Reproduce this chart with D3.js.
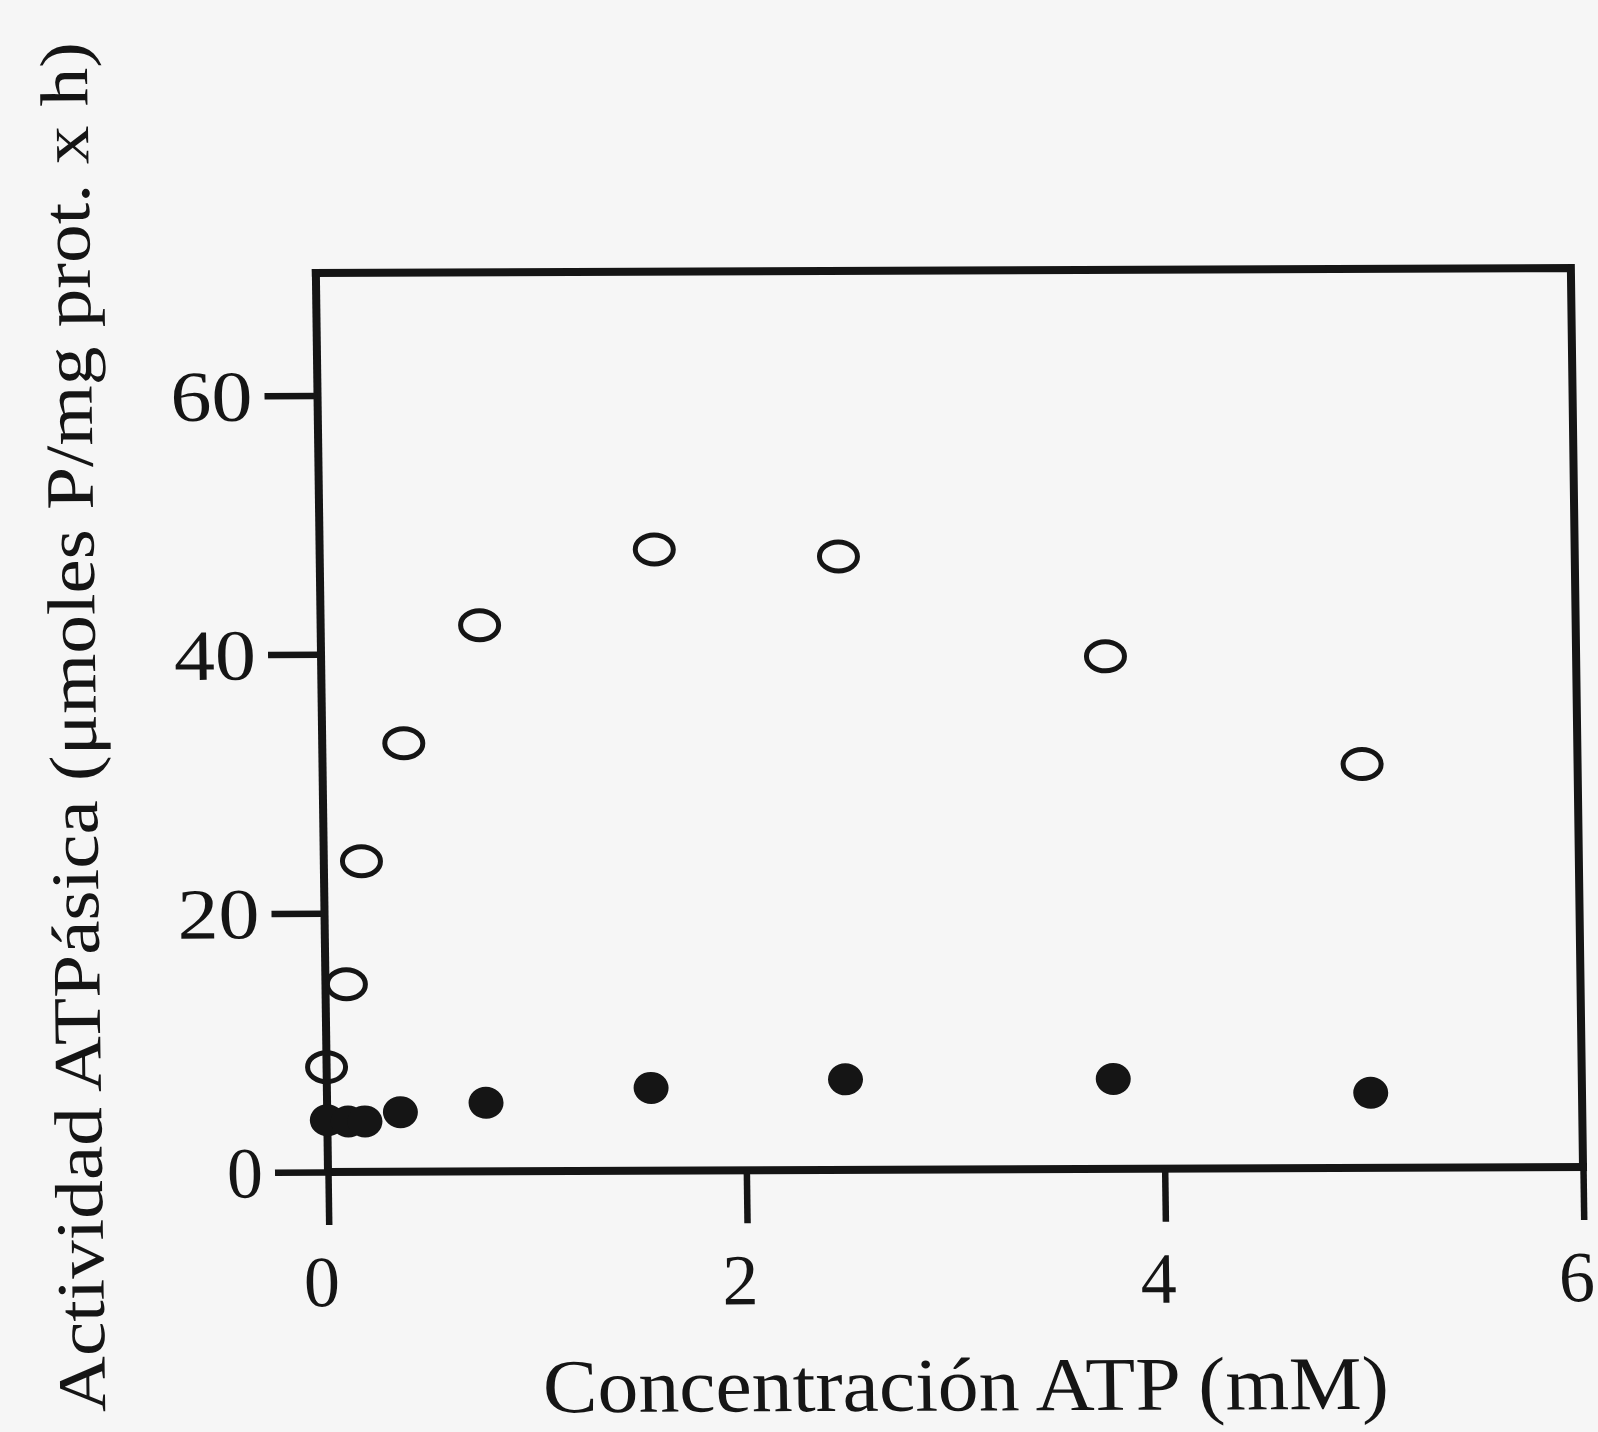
<!DOCTYPE html>
<html>
<head>
<meta charset="utf-8">
<script src="https://cdn.jsdelivr.net/npm/d3@7"></script>
<style>
  body { margin: 0; background: #f6f6f6; }
  svg { display: block; }
  text { font-family: "Liberation Serif", "Times New Roman", serif; fill: #151515; }
</style>
</head>
<body>
<div id="chart"></div>
<script>
/** ATPase activity vs ATP concentration *******************/

// Concentration ATP (mM), open circles
var xOpen = [0, 0.1, 0.18, 0.39, 0.76, 1.6, 2.48, 3.75, 4.97];
// Activity, open circles
var yOpen = [8.1, 14.5, 24.0, 33.1, 42.2, 48.0, 47.4, 39.6, 31.2];

// Concentration ATP (mM), filled circles
var xFilled = [0, 0.1, 0.18, 0.35, 0.76, 1.55, 2.48, 3.76, 4.99];
// Activity, filled circles
var yFilled = [4.0, 3.9, 3.9, 4.6, 5.3, 6.4, 7.0, 6.95, 5.8];

var xTicks = [0, 2, 4, 6];
var yTicks = [0, 20, 40, 60];

var xTitle = "Concentración ATP (mM)";
var yTitle = "Actividad ATPásica (μmoles P/mg prot. x h)";

//**************************************************/

var width = 1598;
var height = 1432;
// note: "top" is taken by window.top, so prefix everything
var plotLeft = 328, plotRight = 1583, plotBottom = 1172, plotTop = 273;
var tickLen = 53;
var lineW = 8;
var ink = "#151515";

var svg = d3.select("#chart").append("svg")
    .attr("width", width)
    .attr("height", height);

svg.append("rect")
    .attr("width", width)
    .attr("height", height)
    .attr("fill", "#f6f6f6");

// the scanned page is slightly skewed, shear everything round the origin
var g = svg.append("g")
    .attr("transform", "translate(" + plotLeft + "," + plotBottom + ") matrix(1,-0.004,0.0135,1,0,0) translate(" + (-plotLeft) + "," + (-plotBottom) + ")");

var x = d3.scaleLinear().domain([0, 6]).range([plotLeft, plotRight]);
var y = d3.scaleLinear().domain([0, 60]).range([plotBottom, 395.5]);

// frame top and right
g.append("path")
    .attr("d", "M" + (plotLeft - lineW / 2) + "," + plotTop + "H" + plotRight + "V" + plotBottom)
    .attr("fill", "none")
    .attr("stroke", ink)
    .attr("stroke-width", lineW);

var xAxis = g.append("g")
    .attr("transform", "translate(0," + plotBottom + ")")
    .call(d3.axisBottom(x).tickValues(xTicks).tickFormat(d3.format("d"))
        .tickSize(tickLen).tickSizeOuter(0).tickPadding(30));

var yAxis = g.append("g")
    .attr("transform", "translate(" + plotLeft + ",0)")
    .call(d3.axisLeft(y).tickValues(yTicks).tickFormat(d3.format("d"))
        .tickSize(tickLen).tickSizeOuter(0).tickPadding(12));

// axis lines span the whole frame
yAxis.select(".domain")
    .attr("d", "M0," + (plotTop - lineW / 2) + "V" + plotBottom);
xAxis.select(".domain")
    .attr("d", "M" + plotLeft + ",0H" + (plotRight + lineW / 2));

[xAxis, yAxis].forEach(function(ax) {
    ax.select(".domain").attr("stroke", ink).attr("stroke-width", lineW).attr("fill", "none");
    ax.selectAll(".tick line").attr("stroke", ink).attr("stroke-width", 6.5);
    ax.selectAll(".tick text")
        .attr("fill", ink)
        .style("font-family", "'Liberation Serif', serif")
        .style("font-size", "72px");
});

xAxis.selectAll(".tick text").attr("dx", -8);
// two digit labels are set wider in the original
yAxis.selectAll(".tick text")
    .attr("dy", "0.34em")
    .filter(function(d) { return d >= 10; })
    .attr("textLength", 82)
    .attr("lengthAdjust", "spacingAndGlyphs");

// open circles
g.selectAll(".open")
    .data(d3.range(xOpen.length))
    .enter().append("ellipse")
    .attr("class", "open")
    .attr("cx", function(i) { return x(xOpen[i]); })
    .attr("cy", function(i) { return y(yOpen[i]); })
    .attr("rx", 19)
    .attr("ry", 14.5)
    .attr("fill", "none")
    .attr("stroke", ink)
    .attr("stroke-width", 5);

// filled circles
g.selectAll(".filled")
    .data(d3.range(xFilled.length))
    .enter().append("ellipse")
    .attr("class", "filled")
    .attr("cx", function(i) { return x(xFilled[i]); })
    .attr("cy", function(i) { return y(yFilled[i]); })
    .attr("rx", 17.5)
    .attr("ry", 16)
    .attr("fill", ink);

// axis titles
g.append("text")
    .attr("x", 963)
    .attr("y", 1413)
    .attr("text-anchor", "middle")
    .attr("textLength", 846)
    .attr("lengthAdjust", "spacingAndGlyphs")
    .style("font-size", "76px")
    .text(xTitle);

g.append("text")
    .attr("transform", "translate(102,726) rotate(-90)")
    .attr("text-anchor", "middle")
    .attr("textLength", 1370)
    .attr("lengthAdjust", "spacingAndGlyphs")
    .style("font-size", "68px")
    .text(yTitle);
</script>
</body>
</html>
